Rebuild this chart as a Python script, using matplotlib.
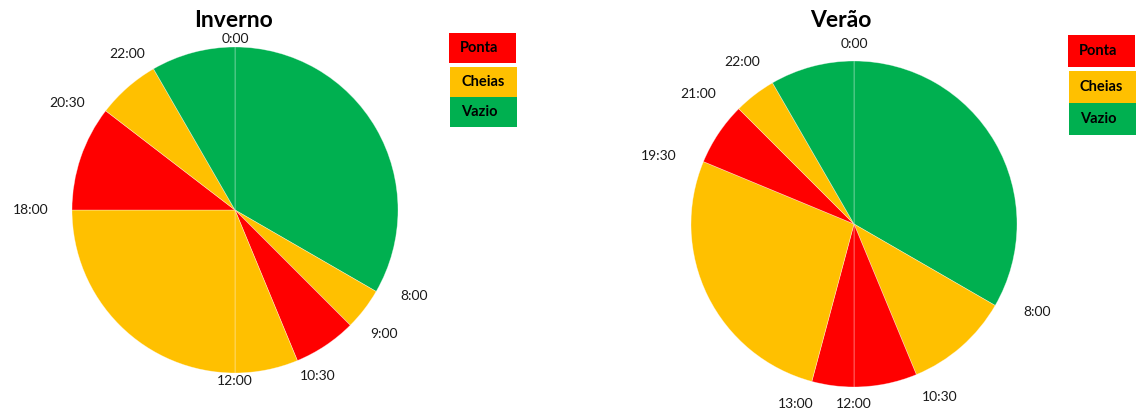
import matplotlib
matplotlib.use("Agg")
import matplotlib.pyplot as plt
from matplotlib.patches import Rectangle
import numpy as np

plt.rcParams['font.family'] = ['Lato', 'DejaVu Sans']

# ---- data ----
periods = ["Ponta", "Cheias", "Vazio"]
period_colors = {"Ponta": "#FF0000", "Cheias": "#FFC000", "Vazio": "#00B050"}

inverno_title = "Inverno"
inverno_starts = [0.0, 8.0, 9.0, 10.5, 12.0, 18.0, 20.5, 22.0]
inverno_labels = ["0:00", "8:00", "9:00", "10:30", "12:00", "18:00", "20:30", "22:00"]
inverno_periods = ["Vazio", "Cheias", "Ponta", "Cheias", "Cheias", "Ponta", "Cheias", "Vazio"]

verao_title = "Verão"
verao_starts = [0.0, 8.0, 10.5, 12.0, 13.0, 19.5, 21.0, 22.0]
verao_labels = ["0:00", "8:00", "10:30", "12:00", "13:00", "19:30", "21:00", "22:00"]
verao_periods = ["Vazio", "Cheias", "Ponta", "Ponta", "Cheias", "Ponta", "Cheias", "Vazio"]

W, H = 1137, 412
fig = plt.figure(figsize=(W / 100, H / 100), dpi=100)
ax = fig.add_axes([0, 0, 1, 1])


def py(y):
    return H - y


def draw_pie(starts, labels, pers, title, cx, cy, r, vgap, title_x, legend_box):
    sizes = np.diff(starts + [24.0])
    cols = [period_colors[p] for p in pers]
    ax.pie(sizes, colors=cols, startangle=90, counterclock=False,
           center=(cx, py(cy)), radius=r,
           wedgeprops=dict(edgecolor=(1, 1, 1, 0.45), linewidth=0.5))
    texts = []
    for s, lab in zip(starts, labels):
        t = ax.text(0, 0, lab, fontsize=10, ha='center', va='center', color='#1a1a1a')
        texts.append((s, t))
    ax.text(title_x, py(20), title, fontsize=16.5, fontweight='bold',
            ha='center', va='center', color='black')
    # legend boxes
    lx, ly, lw, lh = legend_box
    y = ly
    for i, p in enumerate(periods):
        xo = 0 if i == 0 else 1
        ax.add_patch(Rectangle((lx + xo, py(y + lh)), lw, lh,
                               facecolor=period_colors[p], edgecolor='none'))
        ax.text(lx + xo + 11, py(y + lh / 2), p, fontsize=10.5, fontweight='bold',
                ha='left', va='center', color='black')
        y += lh + (4 if i == 0 else 0)
    return texts, cx, cy, r, vgap


pies = []
pies.append(draw_pie(inverno_starts, inverno_labels, inverno_periods, inverno_title,
                     235, 210, 163, 0, 233, (449, 33, 67, 30)))
pies.append(draw_pie(verao_starts, verao_labels, verao_periods, verao_title,
                     854, 224, 163, 9, 841, (1068, 35, 67, 32)))

ax.set_xlim(0, W)
ax.set_ylim(0, H)
ax.set_aspect('equal')
ax.axis('off')

fig.canvas.draw()
renderer = fig.canvas.get_renderer()
for texts, cx, cy, r, vgap in pies:
    for s, t in texts:
        bb = t.get_window_extent(renderer)
        w, h = bb.width, bb.height
        th = np.deg2rad(s / 24.0 * 360.0)
        sn, cs = np.sin(th), np.cos(th)
        d = r + 4 + abs(sn) * (w / 2 + 20) + abs(cs) * (h / 2 - 2 + vgap)
        phi = np.arctan2(1.2 * sn, cs)
        t.set_position((cx + np.sin(phi) * d, py(cy) + np.cos(phi) * d))

fig.savefig("out.png", dpi=100)
